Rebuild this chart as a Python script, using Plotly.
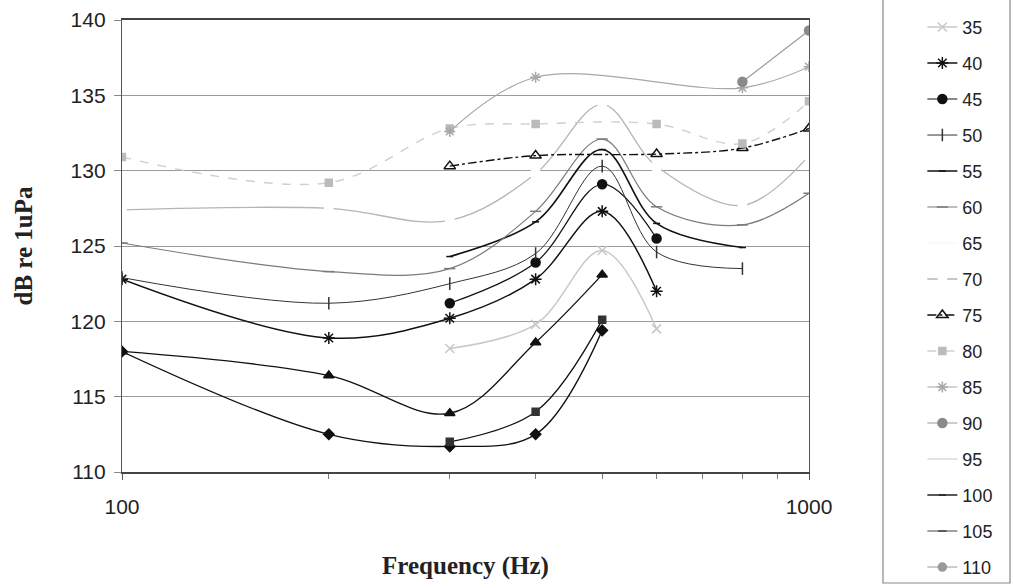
import plotly.graph_objects as go

freq = [100, 200, 300, 400, 500, 600, 800, 1000]

s20 = [118.0, 112.5, 111.7, 112.5, 119.4, None, None, None]
s25 = [None, None, 112.0, 114.0, 120.1, None, None, None]
s30 = [118.0, 116.4, 113.9, 118.6, 123.1, None, None, None]
s35 = [None, None, 118.2, 119.8, 124.7, 119.5, None, None]
s40 = [122.8, 118.9, 120.2, 122.8, 127.3, 122.0, None, None]
s45 = [None, None, 121.2, 123.9, 129.1, 125.5, None, None]
s50 = [122.9, 121.2, 122.5, 124.5, 130.3, 124.6, 123.5, None]
s55 = [None, None, 124.3, 126.6, 131.4, 126.5, 124.9, None]
s60 = [125.2, 123.3, 123.5, 127.3, 132.1, 127.6, 126.4, 128.5]
s65 = [None] * 8
s70 = [127.4, 127.5, 126.7, 129.8, 134.4, 130.3, 127.7, 131.0]
s75 = [None, None, 130.3, 131.0, None, 131.1, 131.5, 132.8]
s80 = [130.9, 129.2, 132.8, 133.1, None, 133.1, 131.8, 134.6]
s85 = [None, None, 132.6, 136.2, None, None, 135.5, 136.9]
s90 = [None, None, None, None, None, None, 135.9, 139.3]
s95 = [None] * 8
s100 = [None] * 8
s105 = [None] * 8
s110 = [None] * 8

series_names = ["20", "25", "30", "35", "40", "45", "50", "55", "60", "65",
                "70", "75", "80", "85", "90", "95", "100", "105", "110"]
series_values = [s20, s25, s30, s35, s40, s45, s50, s55, s60, s65,
                 s70, s75, s80, s85, s90, s95, s100, s105, s110]

styles = {
    "20": dict(color="#111", dash="solid", width=1.3, symbol="diamond", msize=8, legend=False),
    "25": dict(color="#111", dash="solid", width=1.3, symbol="square", msize=7, mcolor="#333", legend=False),
    "30": dict(color="#111", dash="solid", width=1.3, symbol="triangle-up", msize=9, legend=False),
    "35": dict(color="#c8c8c8", dash="solid", width=1.5, symbol="x-thin-open", msize=9),
    "40": dict(color="#111", dash="solid", width=1.5, symbol="asterisk-open", msize=10),
    "45": dict(color="#111", dash="solid", width=1.2, symbol="circle", msize=9),
    "50": dict(color="#333", dash="solid", width=1.0, symbol="line-ns-open", msize=9),
    "55": dict(color="#111", dash="solid", width=1.6, symbol="line-ew-open", msize=5),
    "60": dict(color="#7a7a7a", dash="solid", width=1.2, symbol="line-ew-open", msize=8),
    "65": dict(color="#f6f6f6", dash="solid", width=1.0, symbol=None, msize=0),
    "70": dict(color="#b5b5b5", dash="solid", width=1.3, symbol="square", msize=8, mcolor="#ffffff"),
    "75": dict(color="#111", dash="dashdot", width=1.4, symbol="triangle-up-open", msize=10),
    "80": dict(color="#cfcfcf", dash="dash", width=1.4, symbol="square", msize=7, mcolor="#bbbbbb"),
    "85": dict(color="#a8a8a8", dash="solid", width=1.2, symbol="asterisk-open", msize=9),
    "90": dict(color="#9a9a9a", dash="solid", width=1.2, symbol="circle", msize=9, mcolor="#8a8a8a"),
    "95": dict(color="#c8c8c8", dash="solid", width=1.0, symbol=None, msize=0),
    "100": dict(color="#222", dash="solid", width=1.3, symbol="line-ew-open", msize=5),
    "105": dict(color="#444", dash="solid", width=1.2, symbol="line-ew-open", msize=6),
    "110": dict(color="#999", dash="solid", width=1.0, symbol="circle", msize=8),
}

fig = go.Figure()
for name, vals in zip(series_names, series_values):
    st = styles[name]
    mcol = st.get("mcolor", st["color"])
    marker = dict(size=st["msize"], color=mcol,
                  line=dict(color=mcol, width=1.5))
    if st["symbol"] is None:
        mode = "lines"
        marker = None
    else:
        mode = "lines+markers"
        marker["symbol"] = st["symbol"]
    xs = [f for f, v in zip(freq, vals) if v is not None]
    ys = [v for v in vals if v is not None]
    kw = dict(marker=marker) if marker else {}
    fig.add_trace(go.Scatter(
        x=xs if xs else [None], y=ys if ys else [None],
        name=name, mode=mode, legendgroup=name,
        showlegend=st.get("legend", True),
        line=dict(color=st["color"], width=st["width"], dash=st["dash"],
                  shape="spline", smoothing=1.0),
        **kw,
    ))

fig.update_layout(
    width=1013, height=588,
    margin=dict(l=122, r=204, t=20, b=116, autoexpand=False),
    paper_bgcolor="white", plot_bgcolor="white",
    font=dict(family="Liberation Sans, Arial", color="#222"),
    showlegend=True,
    legend=dict(x=1.165, xanchor="left", yref="container", y=0.985, yanchor="top",
                maxheight=700,
                font=dict(size=18, family="Liberation Sans, Arial", color="#222"),
                tracegroupgap=9.6, bgcolor="rgba(0,0,0,0)", borderwidth=0),
    shapes=[dict(type="rect", xref="paper", yref="paper",
                 x0=(883 - 122) / 687, x1=(1010 - 122) / 687,
                 y0=(472 - 583) / 452, y1=1.2,
                 line=dict(color="#888", width=1.2), fillcolor="rgba(0,0,0,0)",
                 layer="below")],
)

fig.update_xaxes(
    type="log", range=[2, 3], automargin=False,
    tickvals=[100, 1000], ticktext=["100", "1000"],
    ticks="outside", ticklen=6, tickcolor="#555",
    minor=dict(tickvals=[200, 300, 400, 500, 600, 700, 800, 900],
               ticks="outside", ticklen=5, tickcolor="#777", showgrid=False),
    showgrid=False, showline=True, linecolor="#444", linewidth=1.5, mirror=True,
    tickfont=dict(size=21, family="Liberation Sans, Arial", color="#222"),
    ticklabelstandoff=9,
    title=dict(text="<b>Frequency (Hz)</b>", standoff=40,
               font=dict(size=25, family="Liberation Serif, Times New Roman", color="#222")),
)
fig.update_yaxes(
    range=[110, 140], dtick=5, automargin=False,
    ticks="outside", ticklen=7, tickcolor="#888",
    showgrid=True, gridcolor="#9a9a9a", gridwidth=1,
    showline=True, linecolor="#555", linewidth=1.3, mirror=True,
    tickfont=dict(size=21, family="Liberation Sans, Arial", color="#222"),
    ticklabelstandoff=4,
    title=dict(text="<b>dB re 1uPa</b>", standoff=30,
               font=dict(size=25, family="Liberation Serif, Times New Roman", color="#222")),
)

fig.write_html("out.html")
